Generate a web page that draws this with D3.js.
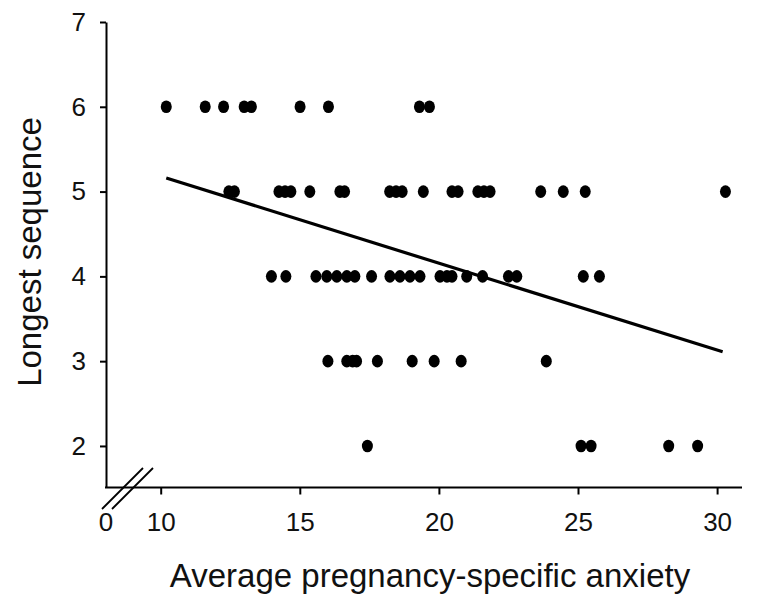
<!DOCTYPE html>
<html>
<head>
<meta charset="utf-8">
<script src="https://cdn.jsdelivr.net/npm/d3@7"></script>
<style>
    body { margin: 0; background: #fff; }
    svg { display: block; font-family: "Liberation Sans", Arial, sans-serif; }
</style>
</head>
<body>
<svg id="grafico" width="763" height="599"></svg>
<script>

// anxiety scores, grouped by longest sequence
const anxietySeq6 = [10.2, 11.6, 12.26, 13.0, 13.26, 15.01, 16.03, 19.3, 19.66];
const anxietySeq5 = [12.45, 12.65, 14.25, 14.47, 14.68, 15.36, 16.44, 16.61, 18.23, 18.46, 18.68,
                     19.44, 20.47, 20.69, 21.4, 21.62, 21.84, 23.66, 24.47, 25.26, 30.3];
const anxietySeq4 = [13.98, 14.5, 15.58, 15.97, 16.33, 16.69, 16.98, 17.58, 18.24, 18.6, 18.96,
                     19.32, 20.04, 20.29, 20.47, 21.0, 21.57, 22.5, 22.8, 25.19, 25.77];
const anxietySeq3 = [16.01, 16.69, 16.9, 17.04, 17.79, 19.04, 19.83, 20.8, 23.86];
const anxietySeq2 = [17.43, 25.11, 25.47, 28.26, 29.3];

const sequenceLevels = [6, 5, 4, 3, 2];
const xTicks = [10, 15, 20, 25, 30];
const yTicks = [2, 3, 4, 5, 6, 7];

// regression line end points
const linhaX = [10.2, 30.2];
const linhaY = [5.16, 3.11];

const grupos = [anxietySeq6, anxietySeq5, anxietySeq4, anxietySeq3, anxietySeq2];
const pontos = grupos.flatMap((valores, i) => valores.map(v => ({x: v, y: sequenceLevels[i]})));

const svg = d3.select("#grafico");

const origemX = 106;
const fimX = 742;

const x = d3.scaleLinear().domain([10, 30]).range([160.7, 717.1]);
const y = d3.scaleLinear().domain([1.51, 7]).range([487.5, 22]);

// y axis
const eixoY = svg.append("g")
    .attr("transform", `translate(${origemX},0)`)
    .call(d3.axisLeft(y).tickValues(yTicks).tickFormat(d3.format("d"))
        .tickSize(6).tickPadding(14).tickSizeOuter(0));

// x axis, the domain path is drawn by hand because of the break
const eixoX = svg.append("g")
    .attr("transform", `translate(0,${y.range()[0]})`)
    .call(d3.axisBottom(x).tickValues(xTicks).tickFormat(d3.format("d"))
        .tickSize(7).tickPadding(18).tickSizeOuter(0));
eixoX.select(".domain").remove();

eixoX.append("line")
    .attr("x1", origemX - 1).attr("x2", fimX)
    .attr("y1", 0).attr("y2", 0)
    .attr("stroke", "#000").attr("stroke-width", 2);

eixoX.append("text")
    .attr("x", origemX)
    .attr("y", 25)
    .attr("dy", "0.71em")
    .attr("text-anchor", "middle")
    .text("0");

// axis break marks
[0, 10].forEach(d => {
    eixoX.append("line")
        .attr("x1", origemX - 4 + d).attr("y1", 21.5)
        .attr("x2", origemX + 37 + d).attr("y2", -19.5)
        .attr("stroke", "#000").attr("stroke-width", 1.8);
});

[eixoY, eixoX].forEach(g => {
    g.selectAll(".domain").attr("stroke-width", 2);
    g.selectAll(".tick line").attr("stroke-width", 2);
    g.selectAll("text").attr("font-size", 26).attr("fill", "#111");
});

// regression line
svg.append("line")
    .attr("x1", x(linhaX[0])).attr("y1", y(linhaY[0]))
    .attr("x2", x(linhaX[1])).attr("y2", y(linhaY[1]))
    .attr("stroke", "#000")
    .attr("stroke-width", 3.2);

// points
svg.append("g")
    .selectAll("ellipse")
    .data(pontos)
    .enter().append("ellipse")
        .attr("cx", d => x(d.x))
        .attr("cy", d => y(d.y))
        .attr("rx", 5.5)
        .attr("ry", 6.3)
        .attr("fill", "#000");

// axis titles
svg.append("text")
    .attr("x", 430)
    .attr("y", 587)
    .attr("text-anchor", "middle")
    .attr("font-size", 33)
    .attr("fill", "#111")
    .text("Average pregnancy-specific anxiety");

svg.append("text")
    .attr("transform", "translate(41,252) rotate(-90)")
    .attr("text-anchor", "middle")
    .attr("font-size", 33)
    .attr("fill", "#111")
    .text("Longest sequence");

</script>
</body>
</html>
